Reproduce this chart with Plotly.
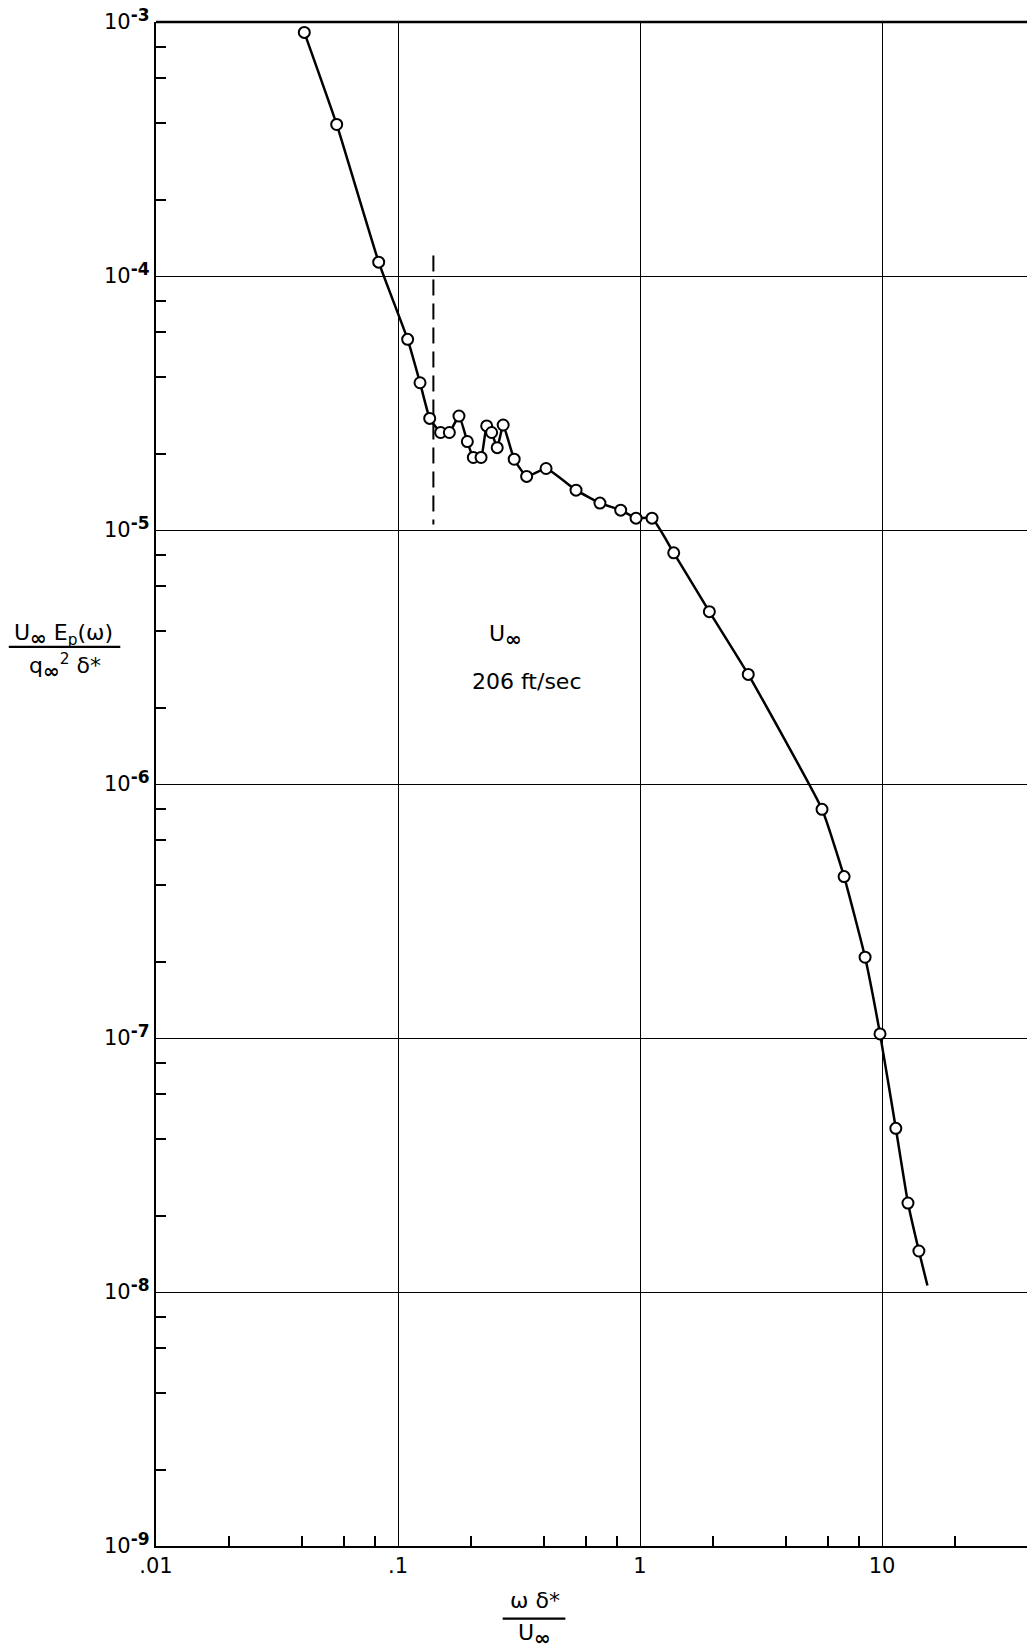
import plotly.graph_objects as go

# Normalised wall-pressure spectrum vs. reduced frequency, U_inf = 206 ft/sec
omega_delta_over_u = [
    0.0410, 0.0558, 0.0832, 0.1096, 0.1233, 0.1352, 0.150, 0.163, 0.1786,
    0.1934, 0.2047, 0.2204, 0.2325, 0.2437, 0.257, 0.272, 0.302, 0.340,
    0.409, 0.544, 0.683, 0.832, 0.963, 1.121, 1.378, 1.934, 2.80, 5.65,
    6.97, 8.51, 9.81, 11.4, 12.8, 14.2,
]
spectrum = [
    9.1e-4, 3.95e-4, 1.134e-4, 5.63e-5, 3.80e-5, 2.75e-5, 2.42e-5, 2.42e-5,
    2.81e-5, 2.23e-5, 1.93e-5, 1.93e-5, 2.57e-5, 2.42e-5, 2.11e-5, 2.59e-5,
    1.90e-5, 1.625e-5, 1.746e-5, 1.435e-5, 1.276e-5, 1.197e-5, 1.113e-5,
    1.113e-5, 8.13e-6, 4.77e-6, 2.70e-6, 7.95e-7, 4.32e-7, 2.08e-7,
    1.038e-7, 4.41e-8, 2.24e-8, 1.45e-8,
]
# faired curve continues a little past the last measured point
curve_tail_x = [15.4]
curve_tail_y = [1.06e-8]

# vertical dashed marker
dash_x = [0.140, 0.140]
dash_y = [1.205e-4, 1.05e-5]

x_ticks = [0.01, 0.1, 1, 10]
x_tick_text = [".01", ".1", "1", "10"]
y_ticks = [1e-9, 1e-8, 1e-7, 1e-6, 1e-5, 1e-4, 1e-3]
y_exponents = ["-9", "-8", "-7", "-6", "-5", "-4", "-3"]
y_tick_text = ["10<sup><span style='font-size:17px;font-weight:bold'>%s</span></sup>" % e
               for e in y_exponents]

x_minor = [m * d for d in (0.01, 0.1, 1, 10) for m in (2, 4, 6, 8)]
y_minor = [m * d for d in (1e-9, 1e-8, 1e-7, 1e-6, 1e-5, 1e-4) for m in (2, 4, 6, 8)]

FONT = "DejaVu Sans"
INK = "black"
INF = "<sub><span style='font-size:20px;font-weight:bold'>∞</span></sub>"

fig = go.Figure()

fig.add_trace(go.Scatter(
    x=omega_delta_over_u + curve_tail_x,
    y=spectrum + curve_tail_y,
    mode="lines",
    line=dict(color=INK, width=2.5, shape="spline", smoothing=0.4),
    hoverinfo="skip",
    showlegend=False,
))
fig.add_trace(go.Scatter(
    x=dash_x, y=dash_y, mode="lines",
    line=dict(color=INK, width=2, dash="16px,8px"),
    hoverinfo="skip", showlegend=False,
))
fig.add_trace(go.Scatter(
    x=omega_delta_over_u, y=spectrum, mode="markers",
    marker=dict(symbol="circle", size=11, color="white",
                line=dict(color=INK, width=2)),
    showlegend=False,
))

fig.update_xaxes(
    type="log", range=[-2, 1.599],
    tickmode="array", tickvals=x_ticks, ticktext=x_tick_text,
    ticks="", showgrid=True, gridcolor=INK, gridwidth=1.4,
    showline=True, linecolor=INK, linewidth=2.4, zeroline=False,
    tickfont=dict(family=FONT, size=21, color=INK),
    minor=dict(tickmode="array", tickvals=x_minor, ticks="inside",
               ticklen=10, tickwidth=1.6, tickcolor=INK, showgrid=False),
)
fig.update_yaxes(
    type="log", range=[-9, -3],
    tickmode="array", tickvals=y_ticks, ticktext=y_tick_text,
    ticks="", showgrid=True, gridcolor=INK, gridwidth=1.4,
    showline=True, linecolor=INK, linewidth=2.4, zeroline=False,
    tickfont=dict(family=FONT, size=21, color=INK),
    minor=dict(tickmode="array", tickvals=y_minor, ticks="inside",
               ticklen=10, tickwidth=1.6, tickcolor=INK, showgrid=False),
)

shapes = [
    # top frame line
    dict(type="line", xref="paper", yref="paper", x0=0, x1=1, y0=1, y1=1,
         line=dict(color=INK, width=2.4)),
    # y-axis label fraction bar
    dict(type="line", xref="paper", yref="paper", x0=-0.169, x1=-0.041,
         y0=0.590, y1=0.590, line=dict(color=INK, width=2.2)),
    # x-axis label fraction bar
    dict(type="line", xref="paper", yref="paper", x0=0.398, x1=0.470,
         y0=-0.0476, y1=-0.0476, line=dict(color=INK, width=2.2)),
]

lab = dict(family=FONT, size=22, color=INK)
annotations = [
    dict(text="U" + INF + " E<sub>p</sub>(ω)", x=-0.106, y=0.598,
         xref="paper", yref="paper", showarrow=False, font=lab,
         xanchor="center", yanchor="middle"),
    dict(text="q" + INF + "<sup>2</sup> δ*", x=-0.104, y=0.577,
         xref="paper", yref="paper", showarrow=False, font=lab,
         xanchor="center", yanchor="middle"),
    dict(text="ω δ*", x=0.435, y=-0.036, xref="paper", yref="paper",
         showarrow=False, font=lab, xanchor="center", yanchor="middle"),
    dict(text="U" + INF, x=0.434, y=-0.0585, xref="paper", yref="paper",
         showarrow=False, font=lab, xanchor="center", yanchor="middle"),
    dict(text="U" + INF, x=0.401, y=0.597, xref="paper", yref="paper",
         showarrow=False, font=lab, xanchor="center", yanchor="middle"),
    dict(text="206 ft/sec", x=0.425, y=0.567, xref="paper", yref="paper",
         showarrow=False, font=lab, xanchor="center", yanchor="middle"),
]

fig.update_layout(
    width=1027, height=1649,
    margin=dict(l=156, r=0, t=22, b=103),
    paper_bgcolor="white", plot_bgcolor="white",
    shapes=shapes, annotations=annotations,
    font=dict(family=FONT, color=INK),
)

fig.write_html("out.html")
